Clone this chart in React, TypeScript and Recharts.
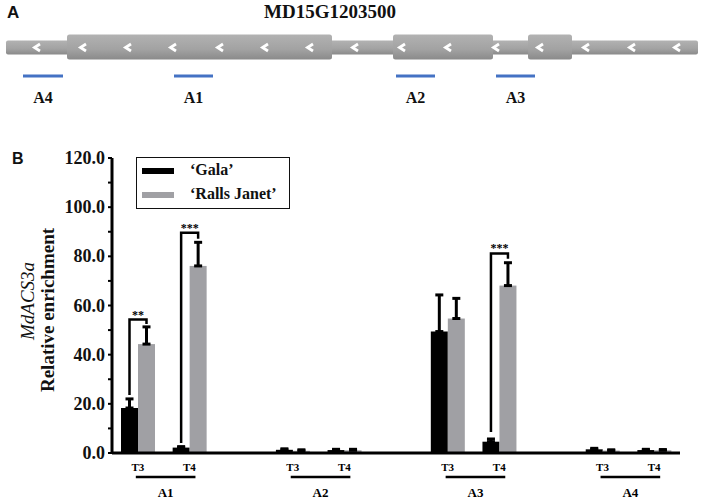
import { BarChart, Bar, XAxis, YAxis, ErrorBar, Legend } from 'recharts'

const serif = '"Liberation Serif", "Times New Roman", serif'
const sans = '"Liberation Sans", Arial, sans-serif'

// panel B data, one value per group x time point (A1 T3, A1 T4, A2 T3, ...)
const groups = ['A1', 'A2', 'A3', 'A4']
const timePoints = ['T3', 'T4']
const galaMean = [18.3, 2.2, 1.3, 1.2, 49.4, 4.6, 1.5, 1.2]
const galaSd = [3.7, 0.4, 0.4, 0.3, 14.9, 1.1, 0.4, 0.3]
const rallsMean = [44.3, 76.1, 0.9, 1.1, 54.7, 68.1, 1.0, 1.1]
const rallsSd = [7.0, 9.6, 0.4, 0.4, 8.2, 9.3, 0.3, 0.3]
const yTicks = [0, 10, 20, 30, 40, 50, 60, 70, 80, 90, 100, 110, 120]

// significance brackets (data units)
const brackets = [
  { key: 'A1-T3', top: 54.3, leftEnd: 23.6, rightEnd: 52.5, stars: '**' },
  { key: 'A1-T4', top: 89.6, leftEnd: 4.1, rightEnd: 87.2, stars: '***' },
  { key: 'A3-T4', top: 81.2, leftEnd: 8.5, rightEnd: 79.0, stars: '***' },
]

// panel A gene model (page x positions)
const geneSpan = [6, 698]
const exons = [
  [67, 332],
  [393, 493],
  [528, 572],
]
const chevrons = [37, 83, 128, 173, 220, 265, 310, 355, 402, 448, 496, 540, 586, 632, 677]
const amplicons = [
  { name: 'A4', from: 23, to: 63 },
  { name: 'A1', from: 174, to: 213 },
  { name: 'A2', from: 396, to: 435 },
  { name: 'A3', from: 496, to: 535 },
]

type Row = {
  key: string
  group: string
  time: string
  gala: number | null
  ralls: number | null
  galaErr: number[] | null
  rallsErr: number[] | null
}

const data: Row[] = []
groups.forEach((g, gi) => {
  timePoints.forEach((t, ti) => {
    const i = gi * 2 + ti
    data.push({
      key: `${g}-${t}`,
      group: g,
      time: t,
      gala: galaMean[i],
      ralls: rallsMean[i],
      galaErr: [0, galaSd[i]],
      rallsErr: [0, rallsSd[i]],
    })
  })
  if (gi < groups.length - 1) {
    data.push({ key: `gap${gi}`, group: '', time: '', gala: null, ralls: null, galaErr: null, rallsErr: null })
  }
})

const plotLeft = 112
const plotRight = 680
const band = (plotRight - plotLeft) / data.length

function XTick(props: any) {
  const { x, y, payload } = props
  const row = data[payload.index]
  if (!row || !row.time) return <g />
  return (
    <g>
      <text x={x} y={y + 18} textAnchor="middle" fontFamily={serif} fontWeight="bold" fontSize={11} fill="#000">
        {row.time}
      </text>
      {row.time === 'T3' && (
        <g>
          <line x1={x - 2} x2={x + band + 6} y1={y + 24} y2={y + 24} stroke="#000" strokeWidth={2.5} />
          <text x={x + band / 2 + 2} y={y + 44} textAnchor="middle" fontFamily={serif} fontWeight="bold" fontSize={13} fill="#000">
            {row.group}
          </text>
        </g>
      )}
    </g>
  )
}

function YTick(props: any) {
  const { x, y, payload } = props
  const v = payload.value as number
  const major = v % 20 === 0
  return (
    <g>
      <line x1={x - 4} x2={x} y1={y} y2={y} stroke="#000" strokeWidth={2} />
      {major && (
        <text x={x - 7} y={y + 6} textAnchor="end" fontFamily={serif} fontWeight="bold" fontSize={18} fill="#111">
          {v.toFixed(1)}
        </text>
      )}
    </g>
  )
}

function RallsShape(props: any) {
  const { x, y, width, height, payload, fill } = props
  const b = brackets.find((br) => br.key === payload.key)
  let bracket = null
  if (b && payload.ralls) {
    const k = height / payload.ralls
    const base = y + height
    const gx = x - width / 2
    const rx = x + width / 2
    const top = base - b.top * k
    bracket = (
      <g>
        <path
          d={`M${gx},${base - b.leftEnd * k} V${top} H${rx} V${base - b.rightEnd * k}`}
          fill="none"
          stroke="#000"
          strokeWidth={2.5}
        />
        <text x={(gx + rx) / 2} y={top - 1} textAnchor="middle" fontFamily={serif} fontWeight="bold" fontSize={12} fill="#000">
          {b.stars}
        </text>
      </g>
    )
  }
  return (
    <g>
      <rect x={x} y={y} width={width} height={height} fill={fill} />
      {bracket}
    </g>
  )
}

function LegendBox(props: any) {
  const items = props.payload || []
  return (
    <div
      style={{
        position: 'relative',
        width: 154,
        height: 52,
        border: '1.5px solid #111',
        boxSizing: 'border-box',
        background: '#fff',
      }}
    >
      {items.map((it: any, i: number) => (
        <div key={i}>
          <div
            style={{
              position: 'absolute',
              left: 5,
              top: 10 + i * 24,
              width: 32,
              height: 6,
              background: it.color,
            }}
          />
          <div
            style={{
              position: 'absolute',
              left: 53,
              top: 3 + i * 24,
              fontFamily: serif,
              fontWeight: 'bold',
              fontSize: 16,
              lineHeight: '18px',
              color: '#111',
              whiteSpace: 'nowrap',
            }}
          >
            {it.value}
          </div>
        </div>
      ))}
    </div>
  )
}

function GenePanel() {
  const cy = 47.5
  return (
    <svg width={704} height={120} style={{ position: 'absolute', left: 0, top: 0 }}>
      <defs>
        <linearGradient id="geneFill" x1="0" y1="0" x2="0" y2="1">
          <stop offset="0" stopColor="#b2b2b2" />
          <stop offset="0.6" stopColor="#a2a2a2" />
          <stop offset="1" stopColor="#8a8a8a" />
        </linearGradient>
      </defs>
      <text x={7} y={18} fontFamily={sans} fontWeight="bold" fontSize={17} fill="#111">
        A
      </text>
      <text x={330} y={18} textAnchor="middle" fontFamily={serif} fontWeight="bold" fontSize={19} fill="#111">
        MD15G1203500
      </text>
      <rect x={geneSpan[0]} y={40.5} width={geneSpan[1] - geneSpan[0]} height={14} rx={2} fill="url(#geneFill)" />
      {exons.map(([a, b], i) => (
        <rect key={i} x={a} y={34.5} width={b - a} height={25} rx={2.5} fill="url(#geneFill)" />
      ))}
      {chevrons.map((cx, i) => (
        <path
          key={i}
          d={`M${cx + 3},${cy - 3.5} L${cx - 2.5},${cy} L${cx + 3},${cy + 3.5}`}
          fill="none"
          stroke="#fff"
          strokeWidth={2.8}
          strokeLinejoin="miter"
        />
      ))}
      {amplicons.map((a) => (
        <g key={a.name}>
          <line x1={a.from} x2={a.to} y1={76} y2={76} stroke="#4472c4" strokeWidth={2.8} />
          <text
            x={(a.from + a.to) / 2}
            y={103}
            textAnchor="middle"
            fontFamily={serif}
            fontWeight="bold"
            fontSize={16}
            fill="#111"
          >
            {a.name}
          </text>
        </g>
      ))}
    </svg>
  )
}

export default function App() {
  return (
    <div style={{ position: 'relative', width: 704, height: 500, background: '#fff' }}>
      <style>{'body{margin:0}'}</style>
      <GenePanel />
      <svg width={704} height={500} style={{ position: 'absolute', left: 0, top: 0 }}>
        <text x={12} y={164} fontFamily={sans} fontWeight="bold" fontSize={16} fill="#111">
          B
        </text>
        <text
          x={34}
          y={301}
          transform="rotate(-90, 34, 301)"
          textAnchor="middle"
          fontFamily={serif}
          fontStyle="italic"
          fontSize={19}
          fill="#111"
        >
          MdACS3a
        </text>
        <text
          x={54}
          y={310}
          transform="rotate(-90, 54, 310)"
          textAnchor="middle"
          fontFamily={serif}
          fontWeight="bold"
          fontSize={19}
          fill="#111"
        >
          Relative enrichment
        </text>
      </svg>
      <div style={{ position: 'absolute', left: 0, top: 0 }}>
        <BarChart
          width={704}
          height={500}
          data={data}
          margin={{ top: 158, right: 24, bottom: 0, left: 52 }}
          barGap={0}
          barCategoryGap={0}
        >
          <XAxis
            dataKey="key"
            height={47}
            interval={0}
            tickLine={false}
            tickSize={0}
            tickMargin={0}
            axisLine={{ stroke: '#000', strokeWidth: 3 }}
            tick={(p: any) => <XTick {...p} />}
          />
          <YAxis
            width={60}
            domain={[0, 120]}
            ticks={yTicks}
            interval={0}
            tickLine={false}
            tickSize={0}
            tickMargin={0}
            axisLine={{ stroke: '#000', strokeWidth: 3 }}
            tick={(p: any) => <YTick {...p} />}
          />
          <Legend
            layout="horizontal"
            verticalAlign="middle"
            align="center"
            content={(p: any) => <LegendBox {...p} />}
            wrapperStyle={{ left: 136, top: 157, width: 156 }}
          />
          <Bar dataKey="gala" name="‘Gala’" fill="#000" barSize={17} isAnimationActive={false}>
            <ErrorBar dataKey="galaErr" direction="y" width={4} strokeWidth={3} stroke="#000" />
          </Bar>
          <Bar
            dataKey="ralls"
            name="‘Ralls Janet’"
            fill="#a0a0a4"
            barSize={17}
            isAnimationActive={false}
            shape={(p: any) => <RallsShape {...p} />}
          >
            <ErrorBar dataKey="rallsErr" direction="y" width={4} strokeWidth={3} stroke="#000" />
          </Bar>
        </BarChart>
      </div>
    </div>
  )
}
